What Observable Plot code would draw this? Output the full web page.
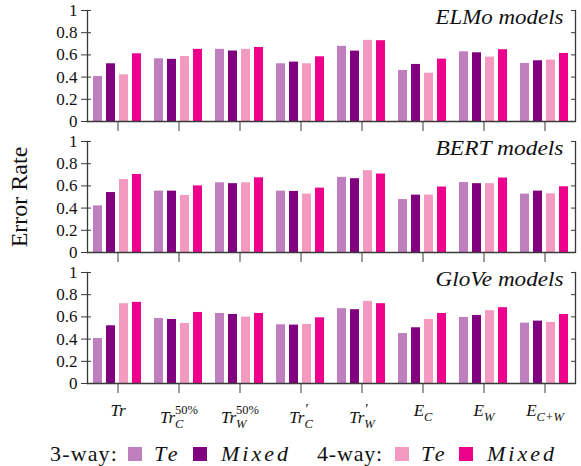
<!DOCTYPE html>
<html>
<head>
<meta charset="utf-8">
<script src="https://cdn.jsdelivr.net/npm/d3@7"></script>
<script src="https://cdn.jsdelivr.net/npm/@observablehq/plot@0.6"></script>
<style>
  body { margin: 0; background: #fff; }
  #chart { width: 581px; font-family: "Liberation Serif", "Times New Roman", serif; color: #111; }
  #chart svg { display: block; }
  .legend { position: relative; height: 27px; width: 581px; font-size: 22px; line-height: 27px; white-space: nowrap; font-family: "Liberation Serif", serif; color: #111; }
  .legend span { position: absolute; top: 0; }
  .legend .sw { width: 14px; height: 14px; top: 7px; }
  .legend .m { font-style: italic; }
</style>
</head>
<body>
<div id="chart"></div>
<script>
// ---- data ----
const condKeys = ["Tr", "Tr50C", "Tr50W", "TrpC", "TrpW", "EC", "EW", "ECW"];
const tickBase  = ["Tr", "Tr", "Tr", "Tr", "Tr", "E", "E", "E"];
const tickSup   = ["", "50%", "50%", "′", "′", "", "", ""];
const tickSub   = ["", "C", "W", "C", "W", "C", "W", "C+W"];
const seriesKeys = ["3-way Te", "3-way Mixed", "4-way Te", "4-way Mixed"];
const seriesColors = ["#bf7fbf", "#800080", "#f49ac1", "#ec008c"];
const modelTitles = ["ELMo models", "BERT models", "GloVe models"];
const yTicks = [0, 0.2, 0.4, 0.6, 0.8, 1];
const yLabel = "Error Rate";
const legendGroups = ["3-way:", "4-way:"];
const legendNames = ["Te", "Mixed", "Te", "Mixed"];

const elmo3Te    = [0.405, 0.565, 0.650, 0.520, 0.677, 0.460, 0.628, 0.523];
const elmo3Mixed = [0.520, 0.560, 0.635, 0.535, 0.634, 0.514, 0.619, 0.547];
const elmo4Te    = [0.420, 0.585, 0.650, 0.520, 0.731, 0.435, 0.580, 0.553];
const elmo4Mixed = [0.610, 0.650, 0.667, 0.583, 0.728, 0.562, 0.647, 0.613];

const bert3Te    = [0.420, 0.553, 0.628, 0.553, 0.677, 0.477, 0.630, 0.526];
const bert3Mixed = [0.540, 0.553, 0.620, 0.550, 0.665, 0.517, 0.620, 0.553];
const bert4Te    = [0.658, 0.514, 0.628, 0.526, 0.737, 0.517, 0.620, 0.529];
const bert4Mixed = [0.703, 0.600, 0.673, 0.580, 0.707, 0.590, 0.671, 0.592];

const glove3Te    = [0.405, 0.586, 0.631, 0.529, 0.674, 0.450, 0.595, 0.544];
const glove3Mixed = [0.520, 0.577, 0.622, 0.526, 0.665, 0.502, 0.613, 0.562];
const glove4Te    = [0.719, 0.541, 0.598, 0.532, 0.740, 0.577, 0.656, 0.550];
const glove4Mixed = [0.731, 0.640, 0.631, 0.592, 0.719, 0.631, 0.683, 0.622];

const panels = [
  {title: modelTitles[0], cols: [elmo3Te, elmo3Mixed, elmo4Te, elmo4Mixed]},
  {title: modelTitles[1], cols: [bert3Te, bert3Mixed, bert4Te, bert4Mixed]},
  {title: modelTitles[2], cols: [glove3Te, glove3Mixed, glove4Te, glove4Mixed]}
];

function rowsFor(cols) {
  const rows = [];
  condKeys.forEach((c, i) => seriesKeys.forEach((s, j) => rows.push({cond: c, series: s, value: cols[j][i]})));
  return rows;
}

const axisColor = "#3a3a3a";
const serif = '"Liberation Serif", "Times New Roman", serif';
const chart = document.getElementById("chart");
const NS = "http://www.w3.org/2000/svg";

panels.forEach((p, k) => {
  const last = k === panels.length - 1;
  const svg = Plot.plot({
    width: 581,
    height: last ? 178 : 131,
    marginLeft: 83,
    marginRight: 3,
    marginTop: 10,
    marginBottom: last ? 57 : 10,
    style: {fontFamily: serif, fontSize: "17px", background: "white", color: "#111"},
    fx: {domain: condKeys, padding: 0, label: null},
    x: {domain: seriesKeys, paddingInner: 0.3, paddingOuter: 0.48, axis: null},
    y: {domain: [0, 1]},
    color: {domain: seriesKeys, range: seriesColors},
    marks: [
      Plot.barY(rowsFor(p.cols), {fx: "cond", x: "series", y: "value", fill: "series"}),
      Plot.ruleY([0], {stroke: axisColor, strokeWidth: 1.3}),
      Plot.frame({anchor: "left", facetAnchor: "left", stroke: axisColor, strokeWidth: 1.3}),
      Plot.frame({anchor: "right", facetAnchor: "right", stroke: axisColor, strokeWidth: 1.3}),
      Plot.axisY({anchor: "left", ticks: yTicks, tickSize: 10, insetLeft: 4, tickPadding: 4,
        tickFormat: d3.format("~g"), stroke: axisColor, fill: "#111", fontSize: 17, fontFamily: serif,
        label: k === 1 ? yLabel : null, labelAnchor: "center", labelOffset: 78}),
      Plot.axisY({anchor: "right", ticks: yTicks, tickSize: 5, insetRight: 5, tickFormat: () => "", stroke: axisColor, label: null}),
      Plot.axisFx({anchor: "bottom", tickSize: 10, tickPadding: 10, label: null, stroke: axisColor, fill: "#111",
        fontSize: 17, fontFamily: serif, tickFormat: last ? (d => d) : (() => "")}),
      Plot.text([{cond: condKeys[condKeys.length - 1], t: p.title}], {fx: "cond", text: "t",
        frameAnchor: "top-right", textAnchor: "end", lineAnchor: "top", dx: -12, dy: -2,
        fontSize: 22, fontStyle: "italic", fontFamily: serif, fill: "#111"})
    ]
  });
  chart.appendChild(svg);

  const lab = svg.querySelector('[aria-label="y-axis label"] text');
  if (lab) { lab.textContent = yLabel; lab.setAttribute("font-size", "24px"); }

  const ttl = svg.querySelector('[aria-label="text"] text');
  if (ttl) { ttl.setAttribute("textLength", 128); ttl.setAttribute("lengthAdjust", "spacingAndGlyphs"); }

  if (last) {
    svg.querySelectorAll('[aria-label="fx-axis tick label"] text').forEach(t => {
      const i = condKeys.indexOf(t.textContent);
      if (i < 0) return;
      t.textContent = "";
      t.setAttribute("font-style", "italic");
      const add = (s, attrs) => {
        const ts = document.createElementNS(NS, "tspan");
        ts.textContent = s;
        for (const a in attrs) ts.setAttribute(a, attrs[a]);
        t.appendChild(ts);
        return ts;
      };
      const up = tickSup[i], sub = tickSub[i];
      add(tickBase[i], up ? {dy: 7} : {});
      if (sub) {
        const s = add(sub, {"font-size": "12.5px", dy: 5});
        if (up) {
          const w = s.getComputedTextLength();
          add(up, {"font-size": up === "′" ? "15px" : "12.5px", "font-style": up === "′" ? "italic" : "normal", dx: -w, dy: -14});
        }
      }
    });
  }
});

// ---- legend ----
const legend = document.createElement("div");
legend.className = "legend";
chart.appendChild(legend);
const items = [
  {t: legendGroups[0], x: 50, w: 68},
  {sw: seriesColors[0], x: 128},
  {t: legendNames[0], m: true, x: 154, w: 27},
  {sw: seriesColors[1], x: 193},
  {t: legendNames[1], m: true, x: 221, w: 70},
  {t: legendGroups[1], x: 317, w: 66},
  {sw: seriesColors[2], x: 395},
  {t: legendNames[2], m: true, x: 421, w: 27},
  {sw: seriesColors[3], x: 459},
  {t: legendNames[3], m: true, x: 487, w: 70}
];
items.forEach(it => {
  const s = document.createElement("span");
  s.style.left = it.x + "px";
  if (it.sw) { s.className = "sw"; s.style.background = it.sw; }
  else { s.textContent = it.t; if (it.m) s.className = "m"; }
  legend.appendChild(s);
  if (it.w) {
    const n = it.t.length;
    const actual = s.getBoundingClientRect().width;
    if (actual > 0 && n > 0) s.style.letterSpacing = ((it.w - actual) / n).toFixed(2) + "px";
  }
});
</script>
</body>
</html>
